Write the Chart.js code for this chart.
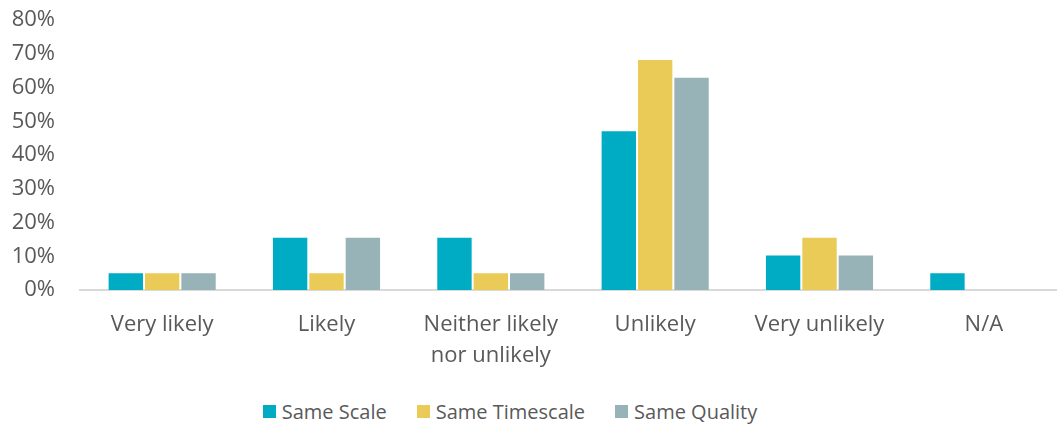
<!DOCTYPE html>
<html>
<head>
<meta charset="utf-8">
<title>Likelihood</title>
<script src="https://cdn.jsdelivr.net/npm/chart.js@4/dist/chart.umd.min.js"></script>
<style>
  html, body { margin: 0; padding: 0; background: #fff; overflow: hidden; }
  #wrap { position: relative; width: 1057px; height: 425px; overflow: hidden; }
  #myChart { position: absolute; left: 0; top: 0; }
  #legend {
    position: absolute; left: 0; top: 398px; width: 1020px;
    display: flex; justify-content: center; align-items: center;
    font-family: "Open Sans", sans-serif; font-size: 20px; color: #595959;
  }
  #legend .item { display: flex; align-items: center; margin: 0 15px; }
  #legend .box { width: 13px; height: 13px; margin-right: 6px; }
</style>
</head>
<body>
<div id="wrap">
  <canvas id="myChart" width="1066" height="370"></canvas>
  <div id="legend"></div>
</div>
<script>
  const categories = ["Very likely", "Likely", ["Neither likely", "nor unlikely"], "Unlikely", "Very unlikely", "N/A"];
  const sameScale = [5.26, 15.79, 15.79, 47.37, 10.53, 5.26];
  const sameTimescale = [5.26, 5.26, 5.26, 68.42, 15.79, 0];
  const sameQuality = [5.26, 15.79, 5.26, 63.16, 10.53, 0];
  const seriesNames = ["Same Scale", "Same Timescale", "Same Quality"];
  const seriesColors = ["#00abc4", "#eacb57", "#97b3b7"];
  const yTicks = [0, 10, 20, 30, 40, 50, 60, 70, 80];

  const textColor = "#595959";
  const fontFamily = "'Open Sans', sans-serif";

  const seriesData = [sameScale, sameTimescale, sameQuality];

  const ctx = document.getElementById("myChart").getContext("2d");
  const chart = new Chart(ctx, {
    type: "bar",
    data: {
      labels: categories,
      datasets: seriesNames.map((name, i) => ({
        label: name,
        data: seriesData[i],
        backgroundColor: seriesColors[i],
        borderColor: "rgba(255,255,255,0.25)",
        borderWidth: 1,
        categoryPercentage: 0.664,
        barPercentage: 1.0
      }))
    },
    options: {
      responsive: false,
      animation: false,
      layout: { padding: { top: 20, right: 0, bottom: 0, left: 0 } },
      plugins: {
        legend: { display: false },
        tooltip: { enabled: false }
      },
      scales: {
        x: {
          grid: { display: false, drawTicks: false },
          border: { display: true, color: "#d9d9d9", width: 2 },
          ticks: {
            color: textColor,
            padding: 20,
            maxRotation: 0,
            autoSkip: false,
            font: { family: fontFamily, size: 22, lineHeight: 1.38 }
          },
          afterFit: (scale) => {
            scale.height = 80;
            scale.paddingTop = 0;
            scale.paddingBottom = 0;
          }
        },
        y: {
          min: 0,
          max: 80,
          afterBuildTicks: (scale) => { scale.ticks = yTicks.map(v => ({ value: v })); },
          grid: { display: false, drawTicks: false },
          border: { display: false },
          ticks: {
            color: textColor,
            padding: 25,
            font: { family: fontFamily, size: 22 },
            callback: (v) => v + "%"
          },
          afterFit: (scale) => {
            scale.width = 80;
            scale.paddingTop = 0;
            scale.paddingBottom = 0;
          }
        }
      }
    }
  });

  // legend drawn as html so it can sit off-centre like the original
  const legendEl = document.getElementById("legend");
  seriesNames.forEach((name, i) => {
    const item = document.createElement("div");
    item.className = "item";
    const box = document.createElement("span");
    box.className = "box";
    box.style.background = seriesColors[i];
    const label = document.createElement("span");
    label.textContent = name;
    item.appendChild(box);
    item.appendChild(label);
    legendEl.appendChild(item);
  });
</script>
</body>
</html>
